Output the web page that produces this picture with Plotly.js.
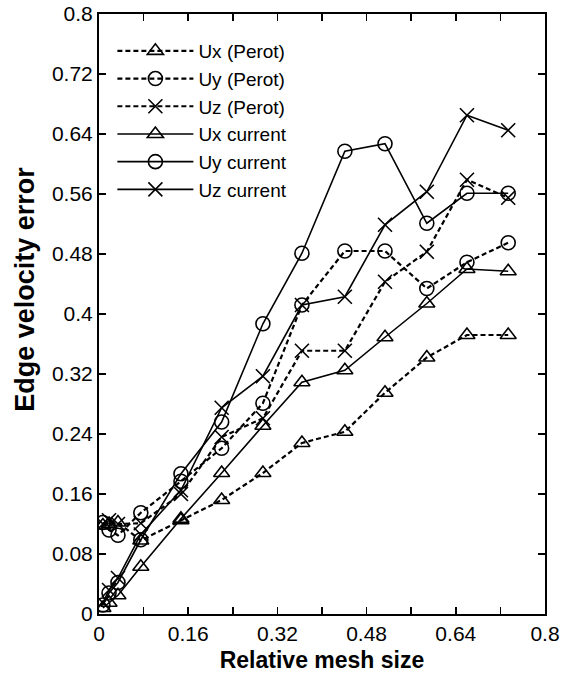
<!DOCTYPE html>
<html>
<head>
<meta charset="utf-8">
<script src="https://cdn.plot.ly/plotly-3.0.1.min.js"></script>
<style>html,body{margin:0;padding:0;background:#fff;}#chart{width:562px;height:681px;}</style>
</head>
<body>
<div id="chart"></div>
<script>
// Relative mesh size (shared x positions)
const meshSize = [0.007, 0.018, 0.034, 0.075, 0.147, 0.22, 0.294, 0.364, 0.441, 0.513, 0.588, 0.660, 0.734];

const uxPerot   = [0.118, 0.120, 0.122, 0.098, 0.125, 0.152, 0.188, 0.228, 0.243, 0.295, 0.342, 0.372, 0.372];
const uyPerot   = [0.122, 0.112, 0.105, 0.135, 0.177, 0.221, 0.281, 0.412, 0.484, 0.484, 0.434, 0.469, 0.495];
const uzPerot   = [0.120, 0.125, 0.120, 0.121, 0.160, 0.236, 0.261, 0.351, 0.351, 0.443, 0.483, 0.579, 0.555];
const uxCurrent = [0.008, 0.015, 0.025, 0.063, 0.127, 0.188, 0.251, 0.309, 0.325, 0.369, 0.414, 0.460, 0.457];
const uyCurrent = [0.012, 0.028, 0.042, 0.099, 0.187, 0.256, 0.387, 0.481, 0.617, 0.627, 0.521, 0.561, 0.561];
const uzCurrent = [0.015, 0.032, 0.048, 0.106, 0.165, 0.275, 0.317, 0.412, 0.423, 0.519, 0.563, 0.665, 0.645];

const seriesNames = ["Ux (Perot)", "Uy (Perot)", "Uz (Perot)", "Ux current", "Uy current", "Uz current"];
const seriesValues = [uxPerot, uyPerot, uzPerot, uxCurrent, uyCurrent, uzCurrent];
const symbols = ["triangle-up-open", "circle-open", "x-thin-open", "triangle-up-open", "circle-open", "x-thin-open"];
const dashes = ["dash", "dash", "dash", "solid", "solid", "solid"];

const tickVals = [0, 0.08, 0.16, 0.24, 0.32, 0.4, 0.48, 0.56, 0.64, 0.72, 0.8];
const xTickLabels = ["0", "", "0.16", "", "0.32", "", "0.48", "", "0.64", "", "0.8"];
const yTickLabels = ["0", "0.08", "0.16", "0.24", "0.32", "0.4", "0.48", "0.56", "0.64", "0.72", "0.8"];
const xTitle = "Relative mesh size";
const yTitle = "Edge velocity error";

const traces = seriesNames.map((name, i) => ({
  x: meshSize,
  y: seriesValues[i],
  name: name,
  type: "scatter",
  mode: "lines+markers",
  line: {color: "#000", width: dashes[i] === "dash" ? 2.2 : 1.6, dash: dashes[i] === "dash" ? "5px,3px" : "solid"},
  marker: {symbol: symbols[i], size: 14, color: "#000", line: {color: "#000", width: 1.6}}
}));

const fontFam = "Liberation Sans, Arial, Helvetica, sans-serif";
const axisCommon = {
  range: [0, 0.8],
  tickvals: tickVals,
  showgrid: false,
  zeroline: false,
  showline: true,
  linecolor: "#000",
  linewidth: 2,
  mirror: "ticks",
  ticks: "inside",
  ticklen: 7,
  tickwidth: 1.5,
  tickcolor: "#000",
  tickfont: {family: fontFam, size: 21, color: "#000"}
};

const layout = {
  width: 562,
  height: 681,
  margin: {l: 99, r: 17, t: 14, b: 67},
  paper_bgcolor: "#fff",
  plot_bgcolor: "#fff",
  font: {family: fontFam, color: "#000"},
  showlegend: true,
  legend: {
    x: 0.03, y: 0.97, xanchor: "left", yanchor: "top",
    bgcolor: "rgba(0,0,0,0)",
    font: {family: fontFam, size: 19, color: "#000"},
    tracegroupgap: 0,
    itemwidth: 76
  },
  xaxis: Object.assign({}, axisCommon, {
    ticktext: xTickLabels,
    automargin: false,
    title: {text: "<b>" + xTitle + "</b>", font: {family: fontFam, size: 23, color: "#000"}, standoff: 8}
  }),
  yaxis: Object.assign({}, axisCommon, {
    ticktext: yTickLabels,
    automargin: false
  }),
  annotations: [{
    text: "<b>" + yTitle + "</b>",
    xref: "paper", yref: "paper",
    x: -0.166, y: 0.542,
    xanchor: "center", yanchor: "middle",
    textangle: -90,
    showarrow: false,
    font: {family: fontFam, size: 27, color: "#000"}
  }]
};

Plotly.newPlot("chart", traces, layout, {displayModeBar: false, staticPlot: true});
</script>
</body>
</html>
